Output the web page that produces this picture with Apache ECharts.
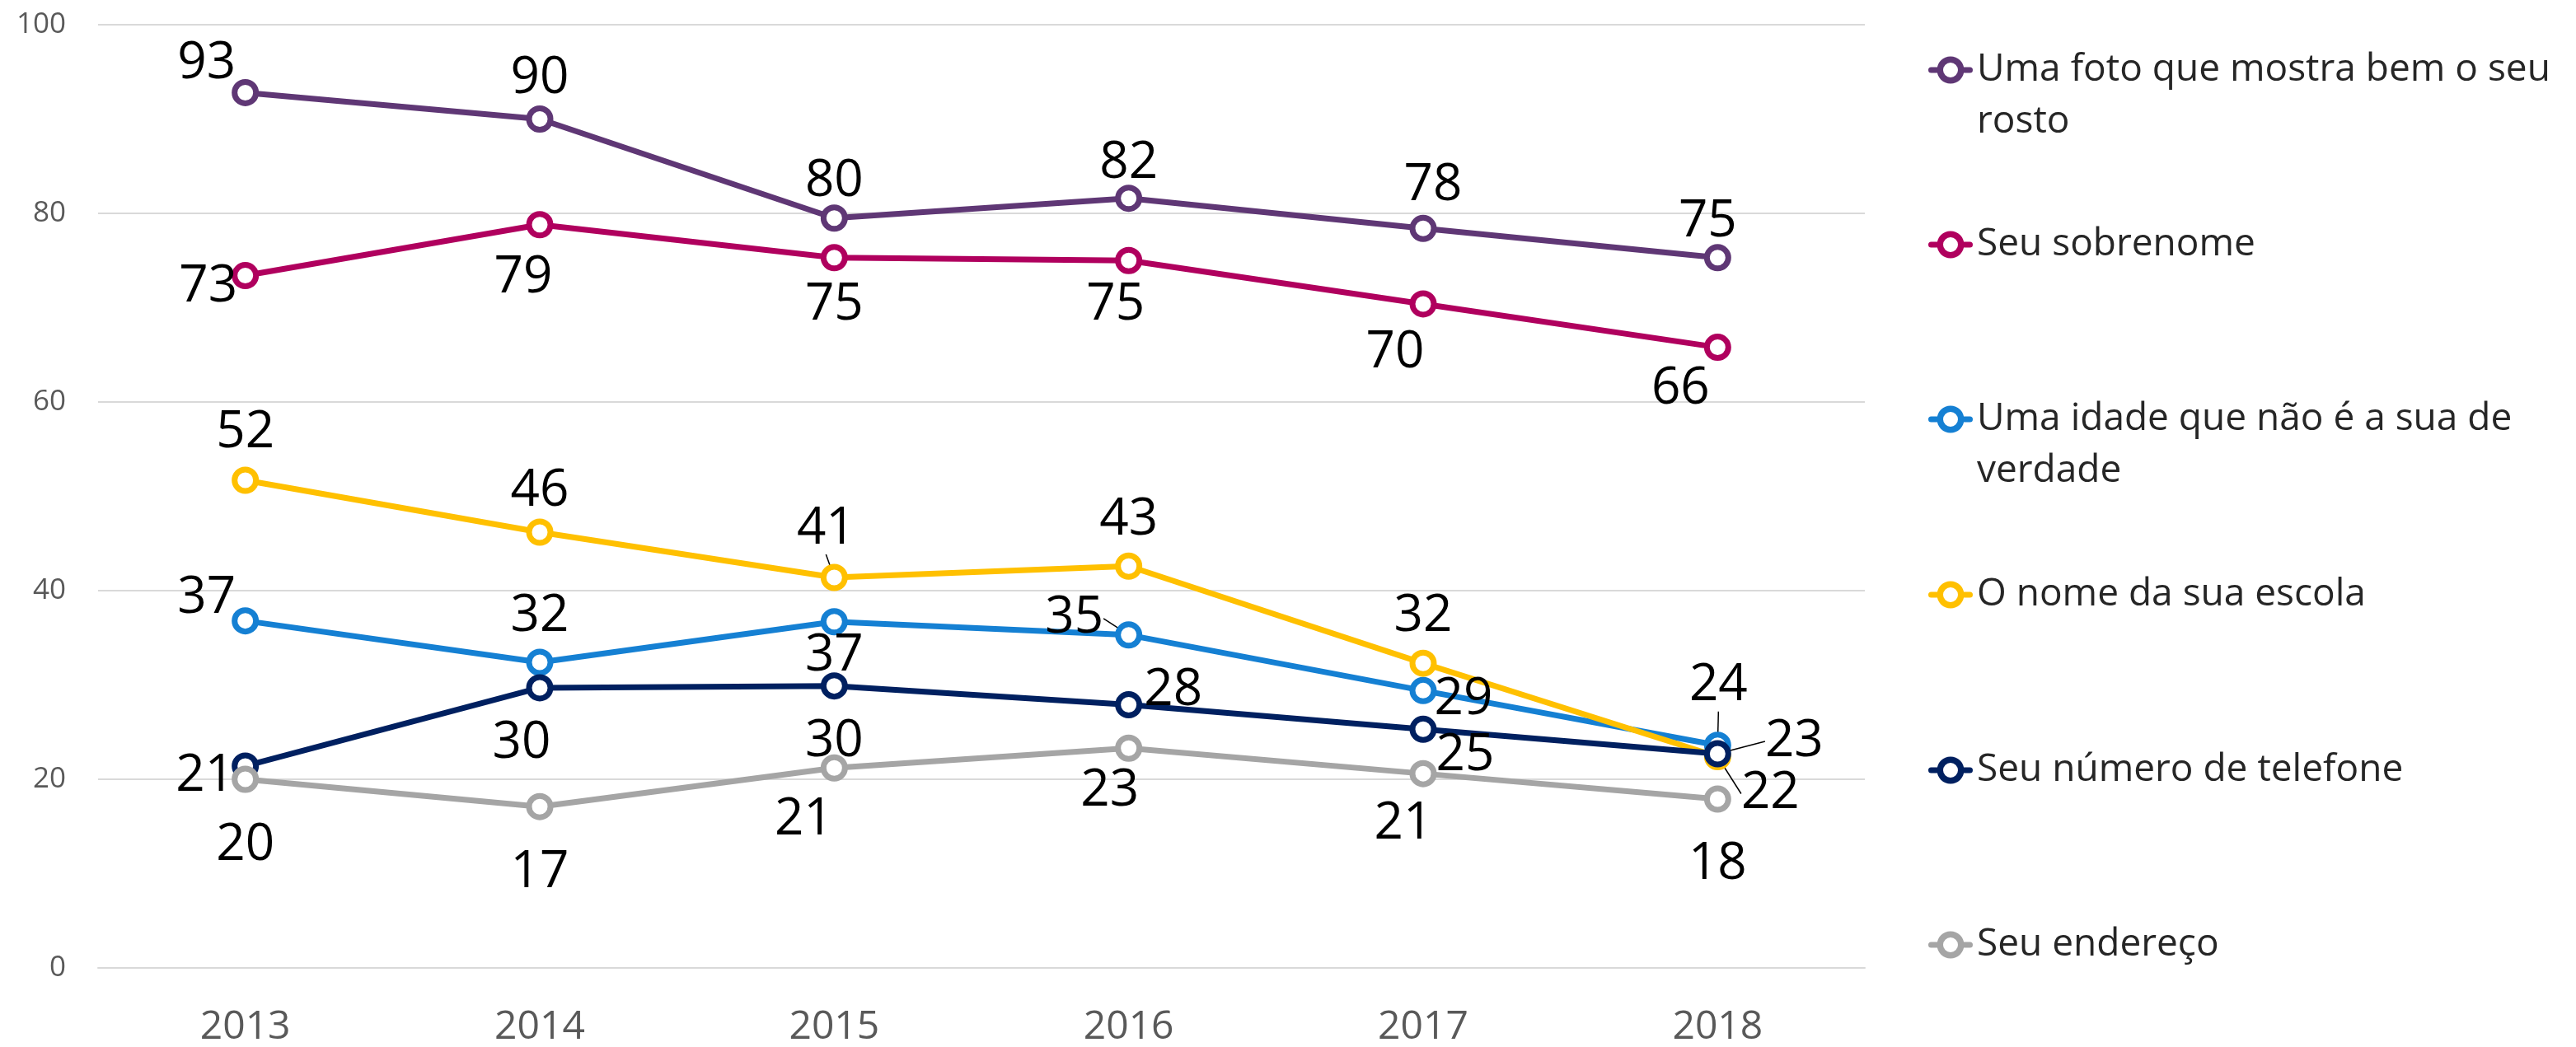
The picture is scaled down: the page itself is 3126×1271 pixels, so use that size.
<!DOCTYPE html>
<html>
<head>
<meta charset="utf-8">
<script src="https://cdn.jsdelivr.net/npm/echarts@6/dist/echarts.min.js"></script>
<style>
  html, body { margin: 0; padding: 0; background: #ffffff; }
  #chart { width: 3126px; height: 1271px; }
</style>
</head>
<body>
<div id="chart"></div>
<script>
// ---- data ----
const years = ['2013', '2014', '2015', '2016', '2017', '2018'];
const seriesNames = [
  'Uma foto que mostra bem o seu rosto',
  'Seu sobrenome',
  'Uma idade que não é a sua de verdade',
  'O nome da sua escola',
  'Seu número de telefone',
  'Seu endereço'
];
const legendLabels = [
  'Uma foto que mostra bem o seu\nrosto',
  'Seu sobrenome',
  'Uma idade que não é a sua de\nverdade',
  'O nome da sua escola',
  'Seu número de telefone',
  'Seu endereço'
];
const fotoRosto  = [92.8, 90.0, 79.5, 81.6, 78.4, 75.3];
const sobrenome  = [73.4, 78.8, 75.3, 75.0, 70.4, 65.8];
const idadeFalsa = [36.8, 32.4, 36.7, 35.3, 29.4, 23.6];
const nomeEscola = [51.7, 46.2, 41.4, 42.6, 32.3, 22.4];
const telefone   = [21.4, 29.7, 29.9, 27.9, 25.3, 22.7];
const endereco   = [20.0, 17.1, 21.2, 23.3, 20.6, 17.9];

// ---- styling / layout ----
const colors = ['#5F3775', '#B0005E', '#1580D3', '#FFC000', '#002060', '#A5A5A5'];
const FONT = '"Open Sans", "Noto Sans", sans-serif';

// label centre offsets relative to each point (px)
const labelOffsets = [
  [[-47,-41],[0,-55],[0,-50],[0,-48],[12,-58],[-12,-49]],
  [[-45,8],[-20,59],[0,52],[-16,48],[-34,53],[-45,45]],
  [[-47,-33],[0,-62],[0,36],[-66,-26],[49,5],[1,-78]],
  [[0,-64],[0,-56],[-10,-65],[0,-62],[0,-63],[64,39]],
  [[-49,6],[-22,61],[0,62],[54,-23],[51,26],[93,-21]],
  [[0,74],[0,74],[-37,57],[-23,46],[-24,55],[0,73]]
];
const LABEL_BASELINE_SHIFT = 6; // glyph-centre correction for the font
// labels drawn with a leader line: [seriesIndex, dataIndex]
const leaderLabels = [[2,3],[2,5],[3,2],[3,5],[4,5]];
const isLeader = (s, i) => leaderLabels.some(p => p[0] === s && p[1] === i);

const legendCenters = [85, 297, 509, 722, 935, 1147];
const LEG_LINE = 63;
const legendIcon = 'path://M3.5 13 L10.8 13 L10.8 20 L3.5 20 A3.5 3.5 0 0 1 3.5 13 Z ' +
  'M43.2 13 L50.5 13 A3.5 3.5 0 0 1 50.5 20 L43.2 20 Z ' +
  'M10.5 16.5 A16.5 16.5 0 1 1 43.5 16.5 A16.5 16.5 0 1 1 10.5 16.5 Z ' +
  'M18 16.5 A9 9 0 1 0 36 16.5 A9 9 0 1 0 18 16.5 Z';

const allValues = [fotoRosto, sobrenome, idadeFalsa, nomeEscola, telefone, endereco];

const series = allValues.map((vals, s) => ({
  name: seriesNames[s],
  type: 'line',
  data: vals.map((v, i) => ({
    value: v,
    labelLine: { show: isLeader(s, i) }
  })),
  symbol: 'circle',
  symbolSize: 26,
  lineStyle: { color: colors[s], width: 7 },
  itemStyle: { color: '#ffffff', borderColor: colors[s], borderWidth: 7 },
  label: {
    show: true,
    position: 'inside',
    color: '#000000',
    fontFamily: FONT,
    fontSize: 62,
    formatter: p => String(Math.round(p.value))
  },
  labelLine: { show: false, lineStyle: { color: '#000000', width: 1.5 } },
  labelLayout: p => ({
    dx: labelOffsets[p.seriesIndex][p.dataIndex][0],
    dy: labelOffsets[p.seriesIndex][p.dataIndex][1] + LABEL_BASELINE_SHIFT
  }),
  emphasis: { disabled: true },
  animation: false
}));

const legends = seriesNames.map((name, s) => {
  const twoLines = legendLabels[s].indexOf('\n') >= 0;
  const h = twoLines ? LEG_LINE * 3 : LEG_LINE;
  return {
    data: [{ name: name, icon: legendIcon, itemStyle: { color: colors[s], borderWidth: 0 } }],
    orient: 'vertical',
    left: 2340,
    top: legendCenters[s] - h / 2,
    padding: 0,
    itemWidth: 54,
    itemHeight: 33,
    icon: legendIcon,
    itemStyle: { color: colors[s], borderWidth: 0 },
    selectedMode: false,
    formatter: () => (twoLines ? '\n' : '') + legendLabels[s],
    textStyle: {
      fontFamily: FONT,
      fontSize: 46,
      color: '#262626',
      lineHeight: LEG_LINE
    }
  };
});

const chart = echarts.init(document.getElementById('chart'), null, { renderer: 'canvas' });
chart.setOption({
  backgroundColor: '#ffffff',
  animation: false,
  color: colors,
  grid: { left: 119, right: 863, top: 30, bottom: 93, containLabel: false },
  xAxis: {
    type: 'category',
    data: years,
    boundaryGap: true,
    axisLine: { show: true, lineStyle: { color: '#D9D9D9', width: 2 } },
    axisTick: { show: false },
    axisLabel: { fontFamily: FONT, fontSize: 48, color: '#595959', margin: 48 }
  },
  yAxis: {
    type: 'value',
    min: 0,
    max: 100,
    interval: 20,
    axisLine: { show: false },
    axisTick: { show: false },
    splitLine: { lineStyle: { color: '#D9D9D9', width: 2 } },
    axisLabel: { fontFamily: FONT, fontSize: 35, color: '#595959', margin: 39 }
  },
  legend: legends,
  series: series
});
</script>
</body>
</html>
